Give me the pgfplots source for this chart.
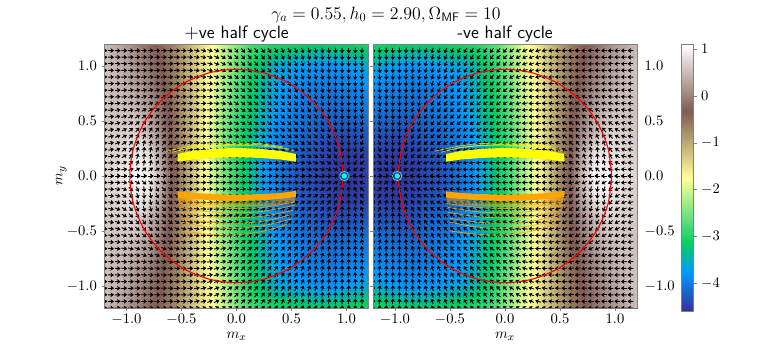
\documentclass[border=0pt]{standalone}
\usepackage{pgfplots}
\usepackage{pgfplotstable}
\pgfplotsset{compat=1.18}
\usetikzlibrary{arrows.meta}
\definecolor{mcyan}{rgb}{0,1,1}
\definecolor{myellow}{rgb}{1,1,0}
\definecolor{morange}{rgb}{1,.647,0}
\definecolor{mred}{rgb}{1,0,0}

% colour field, one half (y>=0); the other half is the mirror image
\pgfplotstableread{
x y z
-1.2 0 .7
-1.1 0 .8
-1.0 0 .95
-.9 0 1.05
-.8 0 1.0
-.7 0 .5
-.6 0 -.25
-.5 0 -.7
-.4 0 -1.2
-.3 0 -1.7
-.2 0 -2.1
-.1 0 -2.55
0 0 -2.95
.1 0 -3.25
.2 0 -3.55
.3 0 -3.85
.4 0 -4.05
.5 0 -4.2
.6 0 -4.35
.7 0 -4.42
.8 0 -4.5
.9 0 -4.55
1.0 0 -4.59
1.1 0 -4.55
1.2 0 -4.5
-1.2 .2 .65
-1.1 .2 .7
-1.0 .2 .8
-.9 .2 .9
-.8 .2 .8
-.7 .2 .35
-.6 .2 -.3
-.5 .2 -.75
-.4 .2 -1.2
-.3 .2 -1.7
-.2 .2 -2.1
-.1 .2 -2.55
0 .2 -2.95
.1 .2 -3.25
.2 .2 -3.55
.3 .2 -3.8
.4 .2 -4.0
.5 .2 -4.15
.6 .2 -4.3
.7 .2 -4.35
.8 .2 -4.45
.9 .2 -4.5
1.0 .2 -4.52
1.1 .2 -4.5
1.2 .2 -4.45
-1.2 .4 .6
-1.1 .4 .65
-1.0 .4 .7
-.9 .4 .65
-.8 .4 .45
-.7 .4 .1
-.6 .4 -.35
-.5 .4 -.75
-.4 .4 -1.2
-.3 .4 -1.65
-.2 .4 -2.05
-.1 .4 -2.5
0 .4 -2.9
.1 .4 -3.2
.2 .4 -3.45
.3 .4 -3.7
.4 .4 -3.9
.5 .4 -4.0
.6 .4 -4.15
.7 .4 -4.2
.8 .4 -4.3
.9 .4 -4.35
1.0 .4 -4.35
1.1 .4 -4.3
1.2 .4 -4.25
-1.2 .6 .55
-1.1 .6 .55
-1.0 .6 .55
-.9 .6 .45
-.8 .6 .25
-.7 .6 -.1
-.6 .6 -.4
-.5 .6 -.8
-.4 .6 -1.2
-.3 .6 -1.6
-.2 .6 -2.0
-.1 .6 -2.4
0 .6 -2.8
.1 .6 -3.1
.2 .6 -3.35
.3 .6 -3.6
.4 .6 -3.75
.5 .6 -3.9
.6 .6 -4.0
.7 .6 -4.08
.8 .6 -4.12
.9 .6 -4.15
1.0 .6 -4.1
1.1 .6 -4.05
1.2 .6 -4.0
-1.2 .8 .55
-1.1 .8 .5
-1.0 .8 .4
-.9 .8 .25
-.8 .8 .05
-.7 .8 -.2
-.6 .8 -.5
-.5 .8 -.8
-.4 .8 -1.2
-.3 .8 -1.6
-.2 .8 -1.9
-.1 .8 -2.3
0 .8 -2.7
.1 .8 -3.05
.2 .8 -3.3
.3 .8 -3.55
.4 .8 -3.7
.5 .8 -3.8
.6 .8 -3.9
.7 .8 -3.95
.8 .8 -4.0
.9 .8 -4.0
1.0 .8 -3.95
1.1 .8 -3.9
1.2 .8 -3.8
-1.2 1.0 .55
-1.1 1.0 .45
-1.0 1.0 .3
-.9 1.0 .1
-.8 1.0 -.1
-.7 1.0 -.3
-.6 1.0 -.55
-.5 1.0 -.85
-.4 1.0 -1.2
-.3 1.0 -1.55
-.2 1.0 -1.85
-.1 1.0 -2.2
0 1.0 -2.55
.1 1.0 -2.95
.2 1.0 -3.2
.3 1.0 -3.45
.4 1.0 -3.6
.5 1.0 -3.65
.6 1.0 -3.72
.7 1.0 -3.75
.8 1.0 -3.78
.9 1.0 -3.78
1.0 1.0 -3.72
1.1 1.0 -3.65
1.2 1.0 -3.55
-1.2 1.2 .5
-1.1 1.2 .35
-1.0 1.2 .2
-.9 1.2 0
-.8 1.2 -.2
-.7 1.2 -.4
-.6 1.2 -.6
-.5 1.2 -.9
-.4 1.2 -1.2
-.3 1.2 -1.5
-.2 1.2 -1.8
-.1 1.2 -2.1
0 1.2 -2.4
.1 1.2 -2.7
.2 1.2 -2.85
.3 1.2 -2.95
.4 1.2 -3.0
.5 1.2 -3.05
.6 1.2 -3.1
.7 1.2 -3.15
.8 1.2 -3.15
.9 1.2 -3.1
1.0 1.2 -3.1
1.1 1.2 -3.05
1.2 1.2 -3.0
}\heat

% arrow directions in degrees: rows are m_y, columns m_x (in hundredths)
\pgfplotstableread{
y c-120 c-114 c-108 c-102 c-96 c-90 c-84 c-78 c-72 c-66 c-60 c-54 c-48 c-42 c-36 c-30 c-24 c-18 c-12 c-6 c0 c6 c12 c18 c24 c30 c36 c42 c48 c54 c60 c66 c72 c78 c84 c90 c96 c102 c108 c114 c120
0 0 0 0 0 0 0 0 0 0 0 0 0 0 0 0 0 0 0 0 0 0 0 0 0 0 0 0 0 0 0 0 0 0 0 0 0 0 180 180 180 180
.06 2 3 5 10 18 30 40 38 28 20 13 8 4 2 0 -1 -2 -2 -3 -3 -3 -4 -4 -4 -4 -5 -5 -6 -7 -7 -9 -10 -12 -15 -21 -31 -56 -108 -143 -157 -163
.12 5 7 12 22 42 68 82 78 62 48 35 22 12 6 2 -1 -3 -4 -5 -6 -7 -7 -8 -8 -9 -10 -11 -12 -13 -15 -17 -19 -23 -29 -37 -50 -72 -99 -124 -139 -146
.18 8 11 18 32 55 75 85 80 66 53 40 27 16 9 4 0 -3 -6 -8 -9 -10 -11 -12 -12 -13 -14 -16 -17 -19 -21 -24 -28 -33 -39 -48 -61 -77 -96 -114 -128 -138
.24 10 14 22 36 56 74 82 76 64 53 42 30 19 11 5 1 -3 -6 -9 -11 -13 -14 -15 -16 -18 -19 -21 -22 -25 -28 -31 -35 -41 -47 -56 -67 -81 -95 -108 -120 -130
.30 11 15 22 34 50 66 75 72 62 52 42 32 21 13 7 2 -2 -6 -10 -13 -17 -18 -19 -20 -22 -23 -25 -27 -30 -33 -37 -41 -47 -53 -62 -72 -82 -94 -105 -115 -124
.36 11 14 20 30 44 58 66 64 57 49 40 32 23 15 9 3 -2 -7 -11 -15 -20 -21 -22 -24 -25 -27 -29 -32 -35 -38 -42 -47 -52 -58 -66 -75 -84 -93 -102 -111 -119
.42 10 13 18 26 38 50 58 58 52 46 38 31 23 16 10 4 -1 -6 -11 -16 -23 -24 -25 -27 -29 -31 -33 -36 -39 -42 -47 -51 -56 -62 -69 -77 -85 -93 -101 -109 -115
.48 10 13 18 25 33 40 45 45 42 38 33 27 20 14 9 4 -1 -6 -11 -17 -26 -27 -29 -30 -32 -34 -37 -40 -43 -46 -50 -55 -60 -65 -72 -79 -85 -92 -100 -106 -113
.54 8 10 14 19 26 32 36 37 36 33 29 24 18 13 8 3 -2 -7 -12 -18 -28 -30 -31 -33 -35 -38 -40 -43 -46 -50 -54 -58 -63 -68 -74 -80 -86 -92 -99 -105 -110
.60 6 8 11 15 20 25 29 31 31 29 25 21 16 11 6 2 -3 -8 -14 -20 -31 -32 -34 -36 -38 -41 -43 -46 -49 -53 -56 -61 -65 -70 -75 -81 -86 -92 -98 -103 -108
.66 5 6 8 11 15 20 24 26 26 24 21 17 13 8 4 0 -4 -10 -16 -22 -33 -35 -37 -39 -41 -43 -46 -49 -52 -55 -59 -63 -67 -72 -76 -82 -87 -92 -97 -102 -107
.72 4 5 6 8 11 15 19 21 21 20 17 14 10 6 2 -2 -6 -12 -18 -24 -36 -37 -39 -41 -43 -46 -48 -51 -54 -57 -61 -65 -69 -73 -77 -82 -87 -92 -97 -101 -106
.78 3 4 4 6 8 11 14 16 17 16 14 11 7 3 0 -4 -8 -14 -20 -26 -38 -40 -42 -44 -46 -48 -51 -53 -56 -59 -63 -66 -70 -74 -78 -83 -87 -91 -96 -100 -104
.84 2 3 3 4 6 8 10 12 13 12 10 8 4 1 -3 -7 -11 -16 -22 -28 -40 -42 -44 -46 -48 -50 -53 -55 -58 -61 -64 -68 -71 -75 -79 -83 -87 -91 -95 -99 -103
.90 2 2 2 3 4 5 7 8 9 8 7 5 2 -2 -5 -9 -13 -18 -24 -30 -42 -44 -46 -48 -50 -52 -55 -57 -60 -62 -66 -69 -72 -76 -80 -83 -87 -91 -95 -98 -102
.96 1 1 1 1 2 3 4 5 6 5 4 2 0 -4 -8 -11 -15 -20 -26 -32 -44 -46 -48 -50 -52 -54 -56 -59 -61 -64 -67 -70 -74 -77 -80 -84 -88 -91 -95 -98 -101
1.02 0 0 0 0 0 1 2 3 3 3 2 0 -2 -6 -10 -13 -17 -22 -28 -34 -46 -48 -49 -51 -53 -56 -58 -60 -63 -65 -68 -71 -75 -78 -81 -84 -88 -91 -94 -97 -101
1.08 -1 -1 -1 -1 -1 0 1 1 1 1 0 -2 -4 -8 -11 -15 -19 -24 -30 -36 -47 -49 -51 -53 -55 -57 -59 -62 -64 -66 -69 -72 -75 -78 -81 -84 -88 -91 -94 -97 -100
1.14 -2 -2 -2 -2 -2 -1 0 0 0 0 -1 -3 -6 -9 -13 -17 -21 -26 -32 -38 -49 -51 -52 -54 -56 -58 -60 -63 -65 -67 -70 -73 -76 -78 -81 -84 -88 -90 -93 -96 -99
1.20 -3 -3 -3 -3 -3 -2 -1 -1 -1 -1 -2 -4 -7 -11 -14 -18 -23 -28 -34 -39 -50 -52 -53 -55 -57 -59 -61 -64 -66 -68 -71 -73 -76 -79 -81 -84 -88 -90 -93 -96 -98
}\field

\pgfplotstableread{
x y
0 -4.59
1 -4.59
0 -3.74
1 -3.74
0 -3.17
1 -3.17
0 -1.75
1 -1.75
0 -.33
1 -.33
0 1.085
1 1.085
}\cbar

\pgfplotsset{
  /pgfplots/colormap={terrain}{rgb(0pt)=(.2,.2,.6); rgb(15pt)=(0,.6,1); rgb(25pt)=(0,.8,.4); rgb(50pt)=(1,1,.6); rgb(75pt)=(.5,.36,.33); rgb(100pt)=(1,1,1)},
  ticks common/.style={
    scale only axis, axis on top,
    point meta min=-4.59, point meta max=1.085,
    axis line style={gray,line width=.7pt},
    tick style={gray,line width=.5pt}, major tick length=2.2pt, tick align=outside,
    tick label style={font=\fontsize{10.95}{12}\selectfont},
    label style={font=\fontsize{10.95}{13}\selectfont},
  },
  panel/.style={
    ticks common, width=198pt, height=198pt,
    xmin=-1.2, xmax=1.2, ymin=-1.2, ymax=1.2,
    xtick={-1,-.5,0,.5,1}, ytick={-1,-.5,0,.5,1},
    xtick pos=lower,
    xticklabel style={yshift=1pt,/pgf/number format/fixed,/pgf/number format/fixed zerofill,/pgf/number format/precision=1},
    yticklabel style={/pgf/number format/fixed,/pgf/number format/fixed zerofill,/pgf/number format/precision=1},
    xlabel={$m_x$}, xlabel style={yshift=1.5pt},
    title style={font=\fontsize{13.4}{15}\sffamily\selectfont, yshift=-8.5pt},
  },
  heatmap/.style={surf, shader=interp, mesh/cols=25, point meta=\thisrow{z}},
  arrowfield/.style={black, line width=.7pt, -{Stealth[length=2.5pt,width=3.5pt,inset=.5pt]}},
  circ/.style={mred, line width=.8pt, smooth, no marks},
}

% things drawn the same way in both panels
\newcommand{\trajectories}{
  \addplot[myellow, line width=.45pt, opacity=.8, smooth, no marks] coordinates {(-.64,.225) (-.4,.275) (-.2,.295) (0,.3) (.2,.295) (.42,.265)};
  \addplot[myellow, line width=.45pt, opacity=.8, smooth, no marks] coordinates {(-.58,.215) (-.4,.26) (-.1,.285) (.2,.285) (.48,.245)};
  \addplot[myellow, line width=.45pt, opacity=.7, smooth, no marks] coordinates {(-.53,.23) (-.3,.27) (0,.28) (.3,.265) (.52,.23)};
  \addplot[myellow, draw=none, fill=myellow] coordinates {(-.535,.13) (-.4,.15) (-.2,.165) (0,.17) (.2,.165) (.4,.15) (.54,.13) (.54,.2) (.4,.228) (.2,.248) (0,.255) (-.2,.248) (-.4,.228) (-.535,.2)};
  \addplot[morange, draw=none, fill=morange, opacity=.45] coordinates {(-.53,-.19) (-.3,-.23) (0,-.24) (.3,-.23) (.53,-.19) (.53,-.24) (.3,-.27) (0,-.285) (-.3,-.27) (-.53,-.24)};
  \addplot[morange, draw=none, fill=morange] coordinates {(-.535,-.14) (-.4,-.155) (-.2,-.165) (0,-.17) (.2,-.165) (.4,-.155) (.54,-.135) (.54,-.19) (.4,-.21) (.2,-.222) (0,-.228) (-.2,-.222) (-.4,-.21) (-.535,-.195)};
  \addplot[morange, line width=.6pt, opacity=.85, smooth, no marks] coordinates {(-.53,-.25) (-.25,-.285) (0,-.295) (.25,-.285) (.53,-.235)};
  \addplot[morange, line width=.6pt, opacity=.85, smooth, no marks] coordinates {(-.52,-.285) (-.25,-.325) (0,-.335) (.25,-.32) (.53,-.265)};
  \addplot[morange, line width=.6pt, opacity=.85, smooth, no marks] coordinates {(-.52,-.33) (-.25,-.37) (0,-.38) (.25,-.365) (.52,-.31)};
  \addplot[morange, line width=.6pt, opacity=.85, smooth, no marks] coordinates {(-.5,-.385) (-.25,-.42) (0,-.43) (.25,-.41) (.5,-.35)};
  \addplot[morange, line width=.6pt, opacity=.85, smooth, no marks] coordinates {(-.5,-.42) (-.25,-.465) (0,-.475) (.25,-.45) (.5,-.39)};
  \addplot[morange, line width=.6pt, opacity=.85, smooth, no marks] coordinates {(-.5,-.5) (-.25,-.53) (0,-.535) (.25,-.5) (.46,-.44)};
  \addplot[circ] coordinates {(.97,0) (.937,.251) (.84,.485) (.686,.686) (.485,.84) (.251,.937) (0,.97) (-.251,.937) (-.485,.84) (-.686,.686) (-.84,.485) (-.937,.251) (-.97,0) (-.937,-.251) (-.84,-.485) (-.686,-.686) (-.485,-.84) (-.251,-.937) (0,-.97) (.251,-.937) (.485,-.84) (.686,-.686) (.84,-.485) (.937,-.251) (.97,0)};
}

\begin{document}
\begin{tikzpicture}
\path[use as bounding box] (-78.375pt,-30pt) rectangle (500.625pt,231pt);

\begin{axis}[panel, at={(0pt,0pt)}, ylabel={$m_y$}, ylabel style={yshift=-6.75pt}, ytick pos=left, title={$+$ve half cycle}]
\addplot[heatmap] table[x=x,y=y] {\heat};
\addplot[heatmap] table[x=x,y expr=-\thisrow{y}] {\heat};
\pgfplotsinvokeforeach{-120,-114,-108,-102,-96,-90,-84,-78,-72,-66,-60,-54,-48,-42,-36,-30,-24,-18,-12,-6,0,6,12,18,24,30,36,42,48,54,60,66,72,78,84,90,96,102,108,114}{
  \addplot[arrowfield, skip coords between index={20}{21},
    quiver={u={.052*cos(\thisrow{c#1})},v={.052*sin(\thisrow{c#1})}}]
    table[x expr={#1/100-.026*cos(\thisrow{c#1})},y expr={\thisrow{y}-.026*sin(\thisrow{c#1})}] {\field};
  \addplot[arrowfield,
    quiver={u={.052*cos(\thisrow{c#1})},v={-.052*sin(\thisrow{c#1})}}]
    table[x expr={#1/100-.026*cos(\thisrow{c#1})},y expr={-\thisrow{y}+.026*sin(\thisrow{c#1})}] {\field};
}
\trajectories
\addplot[only marks, mark=*, mark size=1.8pt, mcyan, mark options={fill=mcyan,draw=mcyan}] coordinates {(.98,0)};
\addplot[only marks, mark=o, mark size=3.5pt, mcyan, mark options={line width=.5pt}] coordinates {(.98,0)};
\end{axis}

\begin{axis}[panel, at={(201.375pt,0pt)}, ytick pos=left, yticklabel pos=right, title={-ve half cycle}]
\addplot[heatmap] table[x expr=-\thisrow{x},y=y] {\heat};
\addplot[heatmap] table[x expr=-\thisrow{x},y expr=-\thisrow{y}] {\heat};
\pgfplotsinvokeforeach{-114,-108,-102,-96,-90,-84,-78,-72,-66,-60,-54,-48,-42,-36,-30,-24,-18,-12,-6,0,6,12,18,24,30,36,42,48,54,60,66,72,78,84,90,96,102,108,114,120}{
  \addplot[arrowfield, skip coords between index={20}{21},
    quiver={u={-.052*cos(\thisrow{c#1})},v={.052*sin(\thisrow{c#1})}}]
    table[x expr={-#1/100+.026*cos(\thisrow{c#1})},y expr={\thisrow{y}-.026*sin(\thisrow{c#1})}] {\field};
  \addplot[arrowfield,
    quiver={u={-.052*cos(\thisrow{c#1})},v={-.052*sin(\thisrow{c#1})}}]
    table[x expr={-#1/100+.026*cos(\thisrow{c#1})},y expr={-\thisrow{y}+.026*sin(\thisrow{c#1})}] {\field};
}
\trajectories
\addplot[only marks, mark=*, mark size=1.8pt, mcyan, mark options={fill=mcyan,draw=mcyan}] coordinates {(-.98,0)};
\addplot[only marks, mark=o, mark size=3.5pt, mcyan, mark options={line width=.5pt}] coordinates {(-.98,0)};
\end{axis}

\begin{axis}[ticks common, at={(432.4pt,-2.6pt)}, width=9.4pt, height=199.9pt,
  xmin=0, xmax=1, ymin=-4.59, ymax=1.085, xtick=\empty,
  ytick={-4,-3,-2,-1,0,1}, ytick pos=right, yticklabel pos=right]
\addplot[surf, shader=interp, mesh/cols=2, point meta=y] table[x=x,y=y] {\cbar};
\end{axis}

\node[font=\fontsize{14.4}{15}\selectfont, scale=.926] at (211.1pt,220pt) {$\gamma_a = 0.55, h_0 = 2.90, \Omega_{\mathsf{MF}} = 10$};
\end{tikzpicture}
\end{document}
